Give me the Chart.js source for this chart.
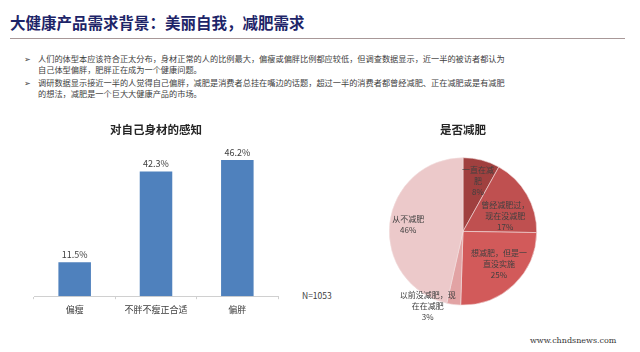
<!DOCTYPE html>
<html>
<head>
<meta charset="utf-8">
<script src="https://cdn.jsdelivr.net/npm/chart.js@4"></script>
<style>
  body { margin: 0; width: 640px; height: 352px; background: #fff; position: relative; overflow: hidden;
         font-family: "Noto Sans CJK SC", "Noto Sans", sans-serif; }
  #head { position: absolute; left: 10px; top: 11px; font-size: 15.5px; font-weight: bold; color: #1d2468; white-space: nowrap; }
  #rule { position: absolute; left: 10px; top: 38px; width: 615px; height: 0; border-top: 1.5px solid #a89898; }
  .bul { position: absolute; left: 24px; font-size: 8.2px; color: #404040; line-height: 11px; white-space: nowrap; }
  .bul span { position: absolute; left: 0; }
  .bul div { margin-left: 14px; }
  #barBox { position: absolute; left: 10px; top: 115px; width: 292px; height: 205px; }
  #pieBox { position: absolute; left: 353px; top: 115px; width: 220px; height: 215px; }
  #n { position: absolute; left: 302px; top: 289px; font-size: 8.5px; color: #404040; }
  #url { position: absolute; left: 530px; top: 336px; font-size: 8px; color: #333; font-family: "DejaVu Serif", serif; }
</style>
</head>
<body>
<div id="head">大健康产品需求背景：美丽自我，减肥需求</div>
<div id="rule"></div>
<div class="bul" style="top:53px"><span>➢</span><div>人们的体型本应该符合正太分布，身材正常的人的比例最大，偏瘦或偏胖比例都应较低，但调查数据显示，近一半的被访者都认为<br>自己体型偏胖，肥胖正在成为一个健康问题。</div></div>
<div class="bul" style="top:77px"><span>➢</span><div>调研数据显示接近一半的人觉得自己偏胖，减肥是消费者总挂在嘴边的话题，超过一半的消费者都曾经减肥、正在减肥或是有减肥<br>的想法，减肥是一个巨大大健康产品的市场。</div></div>
<div id="barBox"><canvas id="barChart"></canvas></div>
<div id="pieBox"><canvas id="pieChart"></canvas></div>
<div id="n">N=1053</div>
<div id="url">www.chndsnews.com</div>
<script>
// bar chart data
var barCategories = ['偏瘦', '不胖不瘦正合适', '偏胖'];
var barValues = [11.5, 42.3, 46.2];

// pie chart data
var pieLabels = [['一直在减', '肥'], ['曾经减肥过，', '现在没减肥'], ['想减肥，但是一', '直没实施'], ['以前没减肥，现', '在在减肥'], ['从不减肥']];
var pieValues = [8, 17, 25, 3, 46];

var cjk = '"Noto Sans CJK SC", sans-serif';

var barLabels = {
    id: 'barLabels',
    afterDatasetsDraw: function (chart) {
        var ctx = chart.ctx;
        ctx.save();
        ctx.font = '9px ' + cjk;
        ctx.fillStyle = '#404040';
        ctx.textAlign = 'center';
        ctx.textBaseline = 'bottom';
        chart.getDatasetMeta(0).data.forEach(function (bar, i) {
            ctx.fillText(barValues[i].toFixed(1) + '%', bar.x, bar.y - 3);
        });
        ctx.restore();
    }
};

// radial position of each label, as a share of the radius, and an angle tweak in degrees
var pieLabelDist = [0.71, 0.61, 0.66, 1.12, 0.75];
var pieLabelTurn = [2, 10, -4, 18, 1];

var pieText = {
    id: 'pieText',
    afterDatasetsDraw: function (chart) {
        var ctx = chart.ctx;
        ctx.save();
        ctx.font = '8px ' + cjk;
        ctx.fillStyle = '#404040';
        ctx.textAlign = 'center';
        ctx.textBaseline = 'middle';
        chart.getDatasetMeta(0).data.forEach(function (arc, i) {
            var p = arc.getProps(['x', 'y', 'startAngle', 'endAngle', 'outerRadius'], true);
            var a = (p.startAngle + p.endAngle) / 2 + pieLabelTurn[i] * Math.PI / 180;
            var r = p.outerRadius * pieLabelDist[i];
            var lines = pieLabels[i].concat([pieValues[i] + '%']);
            var cx = p.x + Math.cos(a) * r;
            var cy = p.y + Math.sin(a) * r;
            lines.forEach(function (t, k) {
                ctx.fillText(t, cx, cy + (k - (lines.length - 1) / 2) * 11);
            });
        });
        ctx.restore();
    }
};

new Chart(document.getElementById('barChart').getContext('2d'), {
    type: 'bar',
    data: {
        labels: barCategories,
        datasets: [{
            data: barValues,
            backgroundColor: '#4f81bd',
            barPercentage: 0.8,
            categoryPercentage: 0.5
        }]
    },
    options: {
        responsive: true,
        maintainAspectRatio: false,
        animation: false,
        layout: { padding: { left: 24, right: 24, top: 0, bottom: 0 } },
        plugins: {
            legend: { display: false },
            tooltip: { enabled: false },
            title: {
                display: true,
                text: '对自己身材的感知',
                color: '#262626',
                font: { family: cjk, size: 11.5, weight: 'bold' },
                padding: { top: 8, bottom: 12 }
            }
        },
        scales: {
            x: {
                grid: { display: true, drawOnChartArea: false, tickLength: 3, color: '#d0d0d0' },
                border: { color: '#d0d0d0' },
                ticks: { color: '#404040', font: { family: cjk, size: 9 }, padding: 5 }
            },
            y: { display: false, min: 0, max: 50 }
        }
    },
    plugins: [barLabels]
});

new Chart(document.getElementById('pieChart').getContext('2d'), {
    type: 'pie',
    data: {
        labels: pieLabels.map(function (l) { return l.join(''); }),
        datasets: [{
            data: pieValues,
            backgroundColor: ['#a0403f', '#bf5050', '#d25a5a', '#e2a3a4', '#ecc9ca'],
            borderColor: '#f2dede',
            borderWidth: 0.6
        }]
    },
    options: {
        responsive: true,
        maintainAspectRatio: false,
        animation: false,
        layout: { padding: { left: 36, right: 36, top: 0, bottom: 24 } },
        plugins: {
            legend: { display: false },
            tooltip: { enabled: false },
            title: {
                display: true,
                text: '是否减肥',
                color: '#262626',
                font: { family: cjk, size: 11.5, weight: 'bold' },
                padding: { top: 8, bottom: 20 }
            }
        }
    },
    plugins: [pieText]
});
</script>
</body>
</html>
